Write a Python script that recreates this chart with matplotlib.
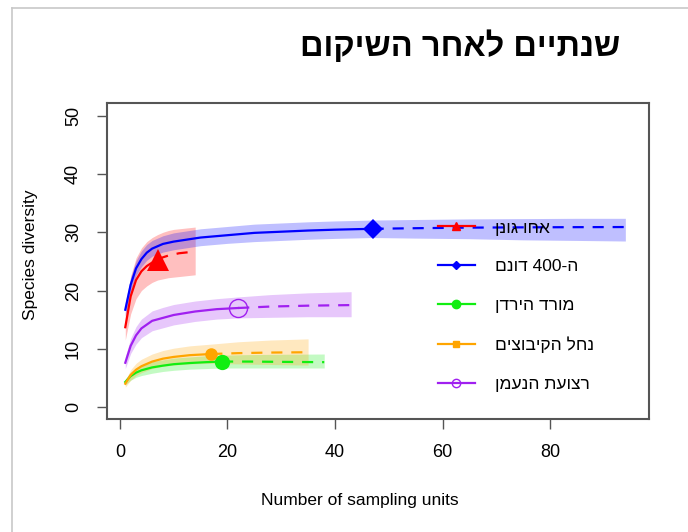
import re
import matplotlib
matplotlib.use("Agg")
import matplotlib.pyplot as plt
from matplotlib.lines import Line2D

plt.rcParams['font.family'] = ['Liberation Sans', 'DejaVu Sans']


def heb(s):
    # matplotlib has no bidi: flip to visual order, keep digit runs
    r = s[::-1]
    return re.sub(r'\d+', lambda m: m.group(0)[::-1], r)


title = "שנתיים לאחר השיקום"
sites = ["אחו גונן", "ה-400 דונם", "מורד הירדן", "נחל הקיבוצים", "רצועת הנעמן"]
colors = ['#ff0000', '#0000ff', '#11ee11', '#ffa500', '#a020f0']

# interpolated part (m = 1 .. observed n)
red_m = [1, 2, 3, 4, 5, 6, 7]
red_y = [13.7, 19.0, 21.8, 23.3, 24.2, 24.8, 25.3]
red_lo = [11.5, 16.0, 18.6, 20.0, 20.8, 21.4, 21.8]
red_hi = [16.2, 22.5, 25.6, 27.3, 28.4, 29.1, 29.6]
red_mx = [7, 8, 9, 10, 11, 12, 13, 14]
red_yx = [25.3, 25.7, 26.0, 26.2, 26.4, 26.5, 26.6, 26.7]
red_lox = [21.8, 22.0, 22.2, 22.3, 22.4, 22.5, 22.6, 22.7]
red_hix = [29.6, 30.0, 30.3, 30.5, 30.6, 30.7, 30.8, 30.9]

blue_m = [1, 2, 3, 4, 5, 6, 8, 10, 15, 20, 25, 30, 35, 40, 47]
blue_y = [16.7, 21.0, 23.8, 25.4, 26.5, 27.2, 28.0, 28.4, 29.1, 29.5, 29.9, 30.1, 30.3, 30.45, 30.6]
blue_lo = [15.6, 19.8, 22.6, 24.1, 25.2, 25.9, 26.6, 27.0, 27.7, 28.1, 28.4, 28.6, 28.8, 28.95, 29.1]
blue_hi = [17.9, 22.3, 25.1, 26.8, 27.9, 28.6, 29.4, 29.9, 30.6, 31.0, 31.4, 31.6, 31.8, 31.95, 32.1]
blue_mx = [47, 55, 65, 75, 85, 94]
blue_yx = [30.6, 30.7, 30.8, 30.85, 30.88, 30.9]
blue_lox = [29.1, 29.0, 28.9, 28.7, 28.6, 28.5]
blue_hix = [32.1, 32.2, 32.3, 32.35, 32.4, 32.4]

green_m = [1, 2, 3, 4, 6, 8, 10, 13, 16, 19]
green_y = [4.3, 5.3, 5.9, 6.3, 6.8, 7.1, 7.35, 7.55, 7.7, 7.8]
green_lo = [3.8, 4.6, 5.1, 5.4, 5.8, 6.1, 6.3, 6.5, 6.6, 6.7]
green_hi = [4.8, 6.0, 6.7, 7.2, 7.8, 8.1, 8.4, 8.6, 8.8, 8.9]
green_mx = [19, 24, 30, 38]
green_yx = [7.8, 7.8, 7.75, 7.7]
green_lox = [6.7, 6.7, 6.7, 6.7]
green_hix = [8.9, 9.0, 9.05, 9.1]

orange_m = [1, 2, 3, 4, 6, 8, 10, 13, 17]
orange_y = [4.0, 5.5, 6.4, 7.0, 7.8, 8.3, 8.6, 8.9, 9.1]
orange_lo = [3.4, 4.6, 5.4, 5.9, 6.6, 7.0, 7.2, 7.4, 7.5]
orange_hi = [4.6, 6.4, 7.5, 8.2, 9.1, 9.7, 10.1, 10.5, 10.8]
orange_mx = [17, 22, 28, 35]
orange_yx = [9.1, 9.25, 9.35, 9.4]
orange_lox = [7.5, 7.4, 7.3, 7.2]
orange_hix = [10.8, 11.2, 11.5, 11.7]

purple_m = [1, 2, 3, 4, 6, 8, 10, 14, 18, 22]
purple_y = [7.6, 10.5, 12.3, 13.5, 14.8, 15.3, 15.8, 16.4, 16.8, 17.0]
purple_lo = [6.6, 9.2, 10.8, 11.9, 13.1, 13.6, 14.1, 14.7, 15.1, 15.3]
purple_hi = [8.6, 11.8, 13.8, 15.1, 16.5, 17.1, 17.6, 18.2, 18.6, 18.9]
purple_mx = [22, 28, 35, 43]
purple_yx = [17.0, 17.25, 17.4, 17.5]
purple_lox = [15.3, 15.4, 15.5, 15.5]
purple_hix = [18.9, 19.3, 19.6, 19.8]

interp = [(red_m, red_y, red_lo, red_hi), (blue_m, blue_y, blue_lo, blue_hi),
          (green_m, green_y, green_lo, green_hi), (orange_m, orange_y, orange_lo, orange_hi),
          (purple_m, purple_y, purple_lo, purple_hi)]
extrap = [(red_mx, red_yx, red_lox, red_hix), (blue_mx, blue_yx, blue_lox, blue_hix),
          (green_mx, green_yx, green_lox, green_hix), (orange_mx, orange_yx, orange_lox, orange_hix),
          (purple_mx, purple_yx, purple_lox, purple_hix)]

# plotting markers at observed point / legend markers
obs_marker = ['^', 'D', 'o', 'o', 'o']
obs_size = [16, 10, 11, 9, 13]
leg_marker = ['^', 'D', 'o', 's', 'o']
leg_size = [6, 4, 6, 5, 6]

fig = plt.figure(figsize=(6.88, 5.32), dpi=100)
ax = fig.add_axes([107 / 688, 1 - 419 / 532, 542 / 688, 316 / 532])

for i in range(5):
    m, y, lo, hi = interp[i]
    mx, yx, lox, hix = extrap[i]
    c = colors[i]
    ax.fill_between(m + mx[1:], lo + lox[1:], hi + hix[1:], color=c, alpha=0.25, lw=0)
    ax.plot(m, y, color=c, lw=1.6)
    ax.plot(mx, yx, color=c, lw=1.6, ls=(0, (5, 4)))
    face = 'none' if i == 4 else c
    ax.plot(m[-1], y[-1], marker=obs_marker[i], ms=obs_size[i], color=c,
            mfc=face, mew=1.0 if i == 4 else 0, ls='none')

ax.set_xlim(-2.4, 98.4)
ax.set_ylim(-2.06, 52.2)
ax.set_xticks([0, 20, 40, 60, 80])
ax.set_yticks([0, 10, 20, 30, 40, 50])
for s in ax.spines.values():
    s.set_color('#555555')
    s.set_linewidth(1.5)
ax.tick_params(axis='both', length=7, width=1.0, color='#555555', labelsize=13, pad=11)
for t in ax.get_yticklabels():
    t.set_rotation(90)
    t.set_va('center')

fig.text(360 / 688, 1 - 500 / 532, "Number of sampling units", ha='center', va='center', fontsize=12.5)
fig.text(30 / 688, 1 - 255 / 532, "Species diversity", ha='center', va='center', rotation=90, fontsize=12.5)
fig.text(460 / 688, 1 - 47 / 532, heb(title), ha='center', va='center', fontsize=23.5, fontweight='bold')

handles = []
for i in range(5):
    face = 'none' if i == 4 else colors[i]
    handles.append(Line2D([0], [0], color=colors[i], lw=1.6, marker=leg_marker[i],
                          ms=leg_size[i], mfc=face, mec=colors[i]))
ax.legend(handles, [heb(s) for s in sites], loc='upper left', bbox_to_anchor=(0.582, 0.678),
          frameon=False, fontsize=12.5, handlelength=2.1, labelspacing=1.36, handletextpad=1.2)

# slide frame lines
fig.add_artist(Line2D([12 / 688, 12 / 688], [0, 1 - 8 / 532], color='#c8c8c8', lw=1.2))
fig.add_artist(Line2D([12 / 688, 1], [1 - 8 / 532, 1 - 8 / 532], color='#c8c8c8', lw=1.2))

fig.savefig("out.png", dpi=100)
